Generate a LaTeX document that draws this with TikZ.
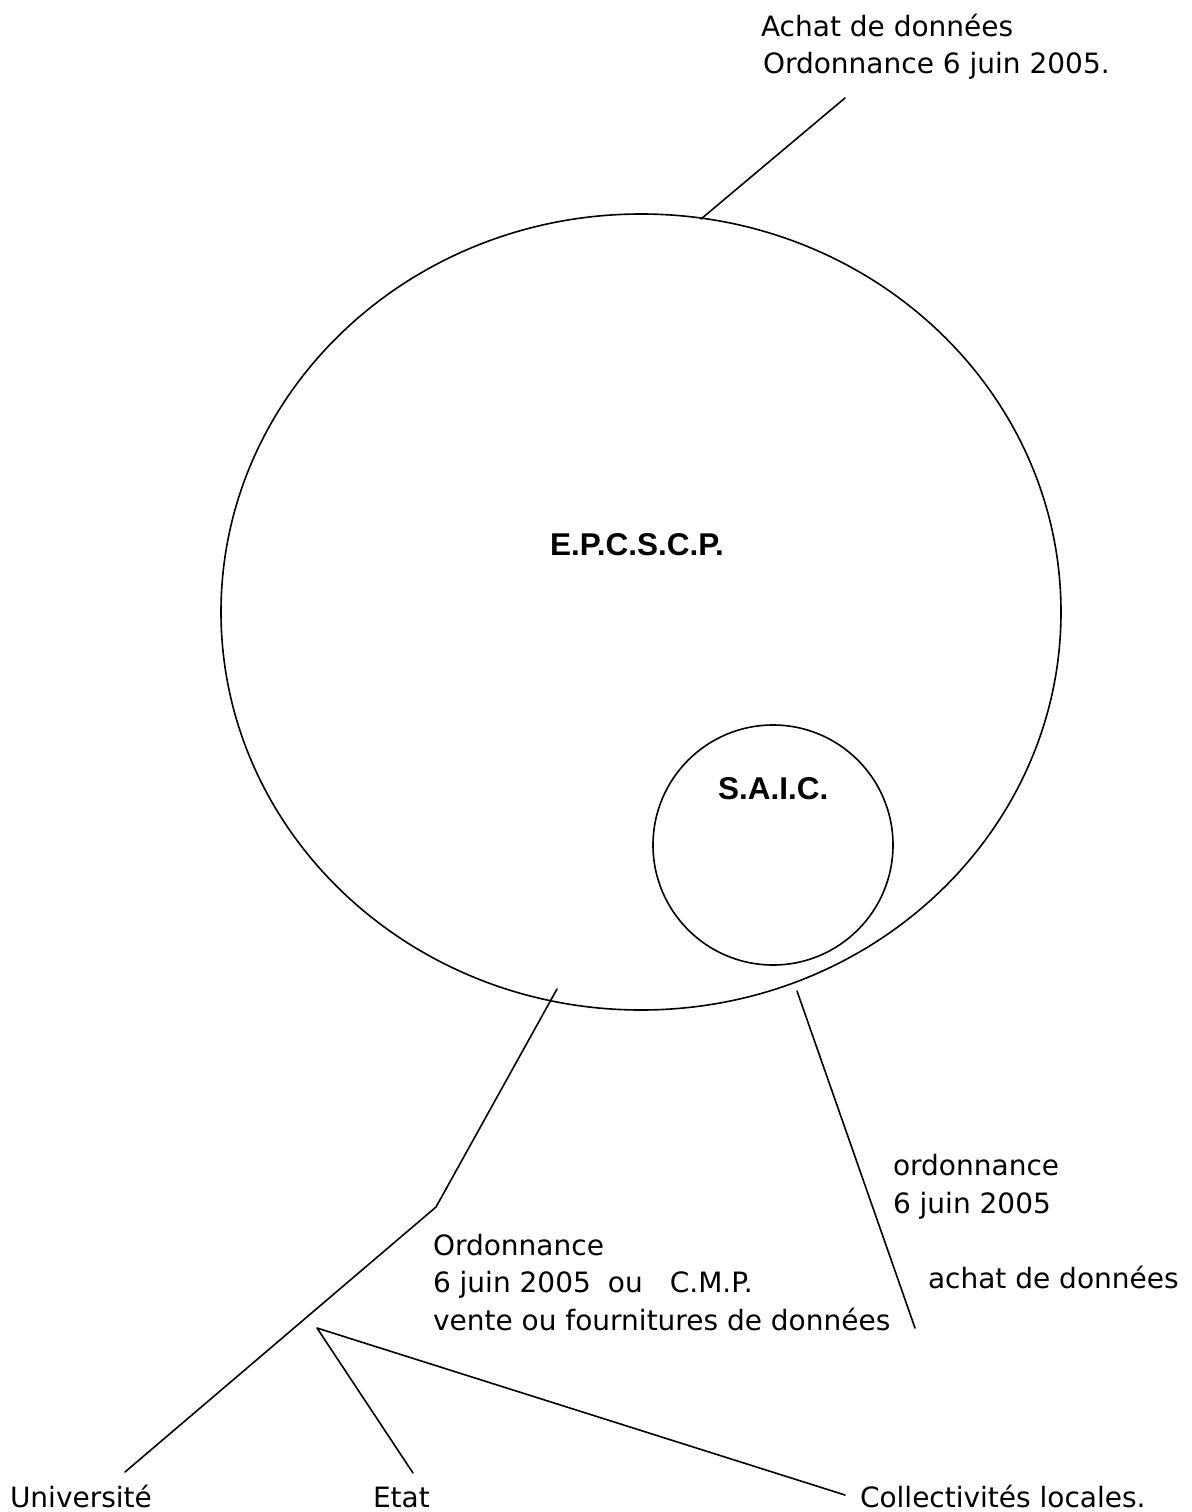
\documentclass[tikz,border=0pt]{standalone}
\usepackage{fontspec}
\setmainfont{DejaVu Sans}
\newfontfamily\boldlab{Liberation Sans}
\tikzset{
  x=1pt, y=-1pt,
  lbl/.style={anchor=base west, inner sep=0pt, outer sep=0pt, font=\fontsize{28}{34}\selectfont},
  boldlbl/.style={anchor=base west, inner sep=0pt, outer sep=0pt, font=\boldlab\bfseries\fontsize{31.5}{36}\selectfont},
  conn/.style={line width=1.6pt, line cap=round, line join=round},
  outline/.style={line width=1.6pt}
}
\begin{document}
\begin{tikzpicture}
\useasboundingbox (0,0) rectangle (1191,1512);
% circles
\draw[outline] (641,612) ellipse [x radius=420, y radius=398];
\draw[outline] (773,845) circle [radius=120];
% labels
\node[lbl] (achat) at (761,37) {Achat de données};
\node[lbl] (ord1) at (763,74) {Ordonnance 6 juin 2005.};
\node[boldlbl] (epc) at (550,555) {E.P.C.S.C.P.};
\node[boldlbl] (saic) at (718,799) {S.A.I.C.};
\node[lbl] (ord2a) at (893,1175) {ordonnance};
\node[lbl] (ord2b) at (893,1213) {6 juin 2005};
\node[lbl] (achat2) at (928,1288) {achat de données};
\node[lbl] (ord3a) at (433,1255) {Ordonnance};
\node[lbl] (ord3b) at (433,1292) {6 juin 2005\hspace{17pt}ou\hspace{27pt}C.M.P.};
\node[lbl] (ord3c) at (433,1330) {vente ou fournitures de données};
\node[lbl] (univ) at (10,1507) {Université};
\node[lbl] (etat) at (373,1507) {Etat};
\node[lbl] (coll) at (860,1507) {Collectivités locales.};
% connector endpoints
\coordinate (t1) at (701,219);
\coordinate (t2) at (845,98);
\coordinate (l1) at (557,989);
\coordinate (lk) at (436,1207);
\coordinate (lu) at (125,1472);
\coordinate (r1) at (797,991);
\coordinate (r2) at (915,1328);
\coordinate (br) at (317,1328);
\coordinate (be) at (413,1473);
\coordinate (bc) at (845,1495);
% connectors
\draw[conn] (t1) -- (t2);
\draw[conn] (l1) -- (lk) -- (lu);
\draw[conn] (r1) -- (r2);
\draw[conn] (be) -- (br) -- (bc);
\end{tikzpicture}
\end{document}
